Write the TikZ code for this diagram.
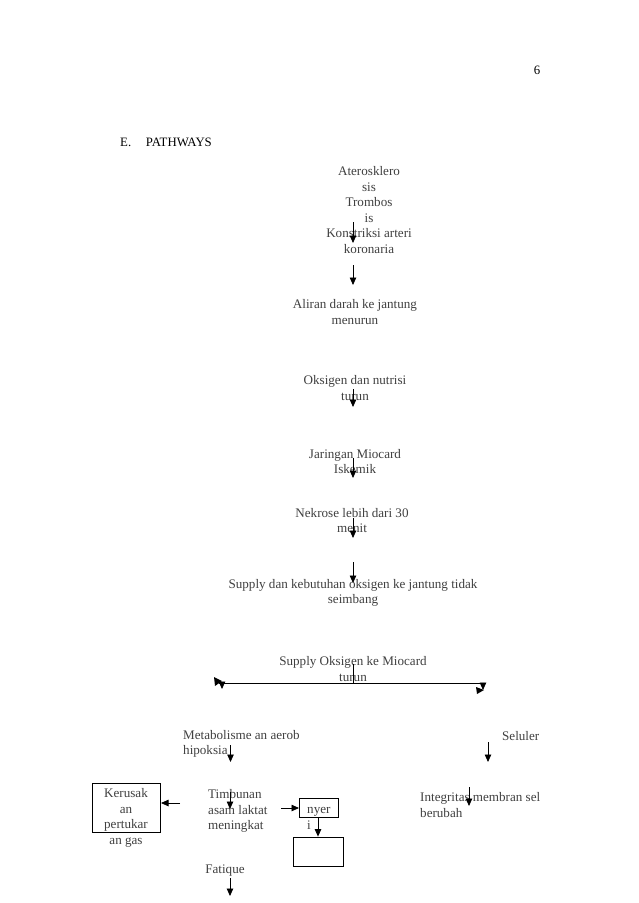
\documentclass[tikz,border=0pt]{standalone}
\usepackage{fontspec}
\setmainfont{Liberation Serif}
\usetikzlibrary{arrows.meta}
\definecolor{txt}{RGB}{64,64,64}
\begin{document}
\begin{tikzpicture}[x=1pt,y=-1pt,
  lbl/.style={inner sep=0pt,text=txt,font=\fontsize{13.1}{15.5}\selectfont,align=center},
  lbll/.style={lbl,align=left,anchor=west},
  arr/.style={-{Triangle[length=7.5pt,width=6.5pt]},line width=0.8pt},
  bx/.style={draw,line width=0.8pt,inner sep=0pt}]
\useasboundingbox[fill=white] (0,0) rectangle (638,903);
\node[inner sep=0pt,font=\fontsize{12.8}{15}\selectfont] (pg) at (537,70) {6};
\node[inner sep=0pt,anchor=west,font=\fontsize{12.8}{15}\selectfont] (ttl) at (120,142) {E.\hspace{1.15em}PATHWAYS};
\node[lbl] (a1) at (369,210) {Aterosklero\\sis\\Trombos\\is\\Konstriksi arteri\\koronaria};
\node[lbl] (a2) at (355,312) {Aliran darah ke jantung\\menurun};
\node[lbl] (a3) at (355,388) {Oksigen dan nutrisi\\turun};
\node[lbl] (a4) at (355,461.5) {Jaringan Miocard\\Iskemik};
\node[lbl] (a5) at (352,520.5) {Nekrose lebih dari 30\\menit};
\node[lbl] (a6) at (353,593) {Supply dan kebutuhan oksigen ke jantung tidak\\seimbang};
\node[lbl] (a7) at (353,669) {Supply Oksigen ke Miocard\\turun};
\node[lbll] (a8) at (183,744) {Metabolisme an aerob\\hipoksia};
\node[lbll] (a9) at (502,736) {Seluler};
\node[bx,minimum width=68pt,minimum height=49pt] (kbox) at (126.5,807.5) {};
\node[lbl] (ktx) at (126,818) {Kerusak\\an\\pertukar\\an gas};
\node[lbll] (a11) at (208,811) {Timbunan\\asam laktat\\meningkat};
\node[bx,minimum width=39pt,minimum height=19pt] (nbox) at (318.5,807.5) {};
\node[lbll] (ntx) at (307,818.5) {nyer\\i};
\node[bx,minimum width=50pt,minimum height=29pt] (ebox) at (318,851.5) {};
\node[lbl] (fat) at (225,870.5) {Fatique};
\node[lbll] (a12) at (420,805) {Integritas membran sel\\berubah};
% arrows
\coordinate (p1s) at (353,222); \coordinate (p1e) at (353,243);
\coordinate (p2s) at (353,265); \coordinate (p2e) at (353,285);
\coordinate (p3s) at (353,389); \coordinate (p3e) at (353,407);
\coordinate (p4s) at (353,458); \coordinate (p4e) at (353,478);
\coordinate (p5s) at (353,518); \coordinate (p5e) at (353,538);
\coordinate (p6s) at (353,562); \coordinate (p6e) at (353,583);
\draw[arr] (p1s) -- (p1e);
\draw[arr] (p2s) -- (p2e);
\draw[arr] (p3s) -- (p3e);
\draw[arr] (p4s) -- (p4e);
\draw[arr] (p5s) -- (p5e);
\draw[arr] (p6s) -- (p6e);
% split
\coordinate (sv) at (353,664); \coordinate (sm) at (353,683);
\coordinate (sl) at (219,683); \coordinate (sr) at (484,683);
\draw[line width=0.8pt] (sv) -- (sm);
\draw[line width=0.8pt] (sl) -- (sr);
\coordinate (sld) at (222,689); \coordinate (srd) at (483,690);
\draw[arr] (222,683) -- (sld);
\draw[arr] (483,683) -- (srd);
\fill (214,677) -- (222,681) -- (215,686) -- cycle;
\fill (476,687) -- (484,690) -- (477,694) -- cycle;
% lower arrows
\coordinate (kin) at (161,803);
\coordinate (nin) at (299,808);
\draw[arr] (230.5,745) -- (230.5,762);
\draw[arr] (488,742) -- (488,762);
\draw[arr] (180,803) -- (kin);
\draw[arr] (230,792) -- (230,809);
\draw[arr] (281,808) -- (nin);
\draw[arr] (318,817) -- (ebox.north);
\draw[arr] (230,878) -- (230,896);
\draw[arr] (469,787) -- (469,806);
\end{tikzpicture}
\end{document}
